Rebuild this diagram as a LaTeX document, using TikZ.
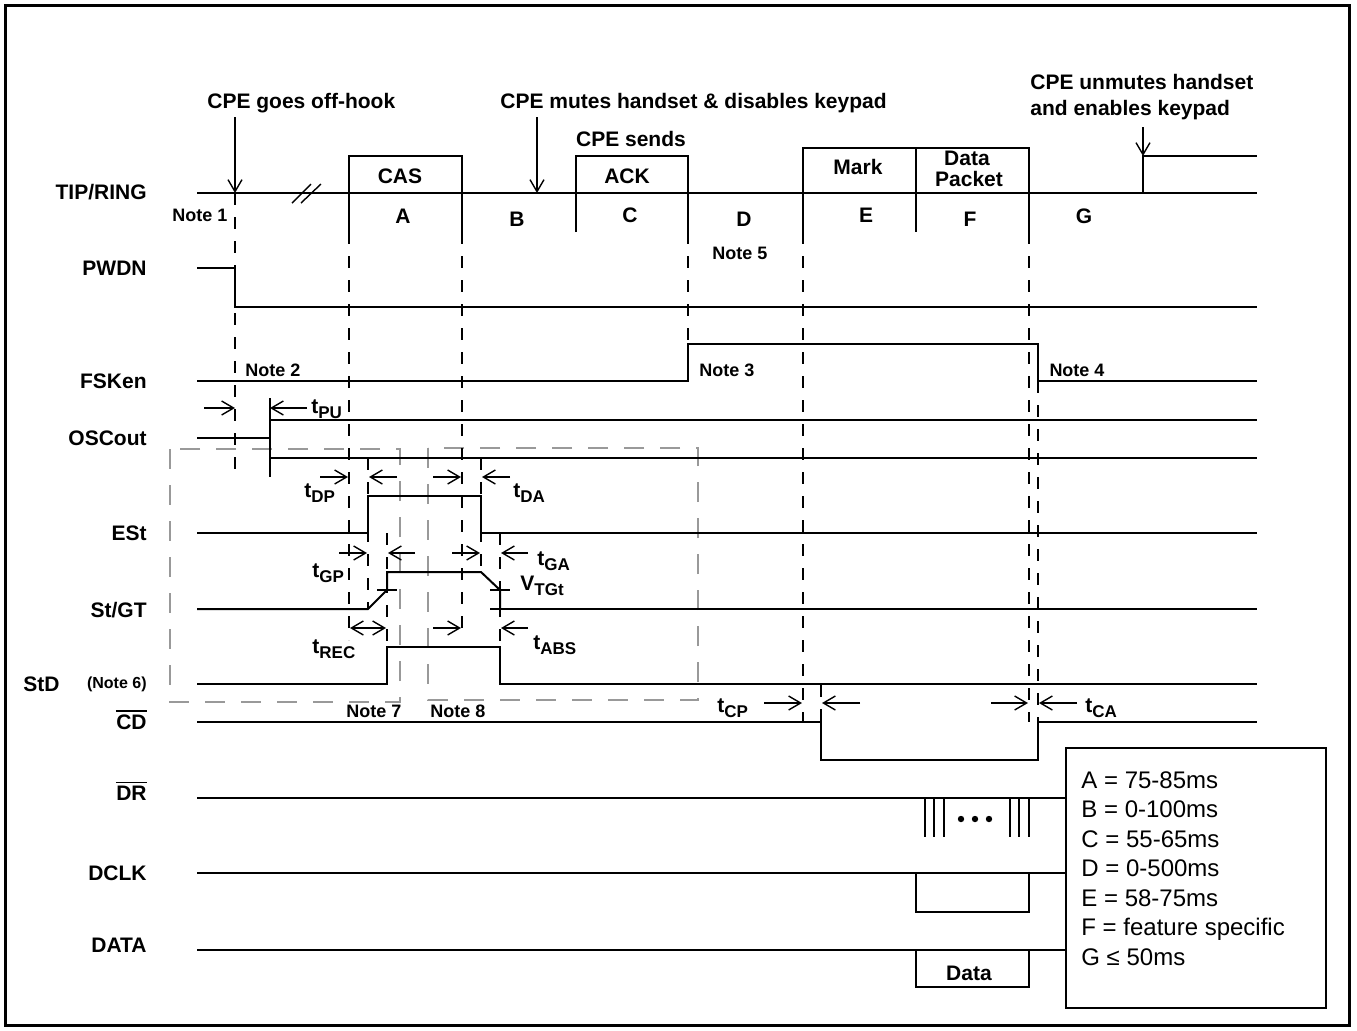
\documentclass[tikz,border=0pt]{standalone}
\usepackage{fontspec}
\setmainfont{Liberation Sans}
\usetikzlibrary{arrows.meta, positioning}

\newcommand{\tsub}[2]{{\fontsize{10.5}{12}\selectfont #1}\raisebox{-2.8pt}{\fontsize{8.5}{10}\selectfont #2}}

\begin{document}
\begin{tikzpicture}[x=0.5pt, y=-0.5pt, >={Straight Barb[length=6pt,width=7pt]},
                    wave/.style={line width=1pt},
                    guide/.style={line width=0.85pt, dash pattern=on 6pt off 6pt},
                    tarrow/.style={->, line width=0.7pt},
                    greybox/.style={draw=black!40, line width=0.85pt, dash pattern=on 10pt off 8pt},
                    lbl/.style={font=\bfseries\fontsize{10.5}{12}\selectfont, inner sep=0pt},
                    note/.style={font=\bfseries\fontsize{9}{11}\selectfont, inner sep=0pt},
                    sig/.style={lbl, anchor=east},
                    tlbl/.style={font=\bfseries, inner sep=0pt, anchor=base west},
                    leg/.style={font=\fontsize{12}{14}\selectfont, anchor=base west, inner sep=0pt}]

    \useasboundingbox (0,0) rectangle (1357,1030);
    \draw[line width=1.5pt] (5,5) rectangle (1349,1025);

    \draw[greybox] (170,449) rectangle (400,702);
    \draw[greybox] (428,448) rectangle (698,700);

    % signal names
    \node[sig] (tipring) at (147,192) {TIP/RING};
    \node[sig] (pwdn) at (147,268) {PWDN};
    \node[sig] (fsken) at (147,381) {FSKen};
    \node[sig] (oscout) at (147,438) {OSCout};
    \node[sig] (est) at (147,533) {ESt};
    \node[sig] (stgt) at (147,610) {St/GT};
    \node[lbl, anchor=west] (std) at (23,684) {StD};
    \node[sig, font=\bfseries\fontsize{8}{10}\selectfont] (note6) at (147,684) {(Note 6)};
    \node[sig] (cd) at (147,722) {CD};
    \node[sig] (dr) at (147,793) {DR};
    \node[sig] (dclk) at (147,873) {DCLK};
    \node[sig] (data) at (147,945) {DATA};
    \draw[line width=0.85pt] ([yshift=1.5pt]cd.north west) -- ([yshift=1.5pt]cd.north east);
    \draw[line width=0.85pt] ([yshift=1.5pt]dr.north west) -- ([yshift=1.5pt]dr.north east);

    % events on the line
    \node[lbl, anchor=base west] (offhook) at (207,108) {CPE goes off-hook};
    \node[lbl, anchor=base west] (mutes) at (500,108) {CPE mutes handset \& disables keypad};
    \node[lbl, anchor=base west] (unmutes) at (1030,89) {CPE unmutes handset};
    \node[lbl, anchor=base west] (enables) at (1030,115) {and enables keypad};
    \node[lbl] (sends) at (631,139) {CPE sends};
    \coordinate (hooktop) at (235,117);
    \coordinate (hook) at (235,193);
    \coordinate (mutetop) at (537,117);
    \coordinate (mute) at (537,193);
    \coordinate (unmutetop) at (1143,127);
    \coordinate (unmute) at (1143,156);
    \draw[tarrow] (hooktop) -- (hook);
    \draw[tarrow] (mutetop) -- (mute);
    \draw[tarrow] (unmutetop) -- (unmute);

    % TIP/RING
    \draw[wave] (197,193) -- (1257,193);
    \draw[wave] (1143,193) -- (1143,156) -- (1257,156);
    \draw[line width=0.7pt] (292,203) -- (311,184) (301,203) -- (321,184);
    \draw[wave] (349,232) |- (462,156) -- (462,232);
    \draw[wave] (576,232) |- (688,156) -- (688,232);
    \draw[wave] (803,232) |- (1029,148) -- (1029,232);
    \draw[wave] (916,148) -- (916,232);
    \node[lbl] (cas) at (400,176) {CAS};
    \node[lbl] (ack) at (627,176) {ACK};
    \node[lbl] (mark) at (858,167) {Mark};
    \node[lbl, anchor=base] (pdata) at (967,165.5) {Data};
    \node[lbl, anchor=base] (packet) at (969,186) {Packet};
    \node[lbl] (ia) at (403,216) {A};
    \node[lbl] (ib) at (517,219) {B};
    \node[lbl] (ic) at (630,215) {C};
    \node[lbl] (id) at (744,219) {D};
    \node[lbl] (ie) at (866,215) {E};
    \node[lbl] (if) at (970,219) {F};
    \node[lbl] (ig) at (1084,216) {G};

    % guides
    \draw[guide] (235,193) -- (235,477);
    \draw[guide] (349,232) -- (349,640);
    \draw[guide] (462,232) -- (462,637);
    \draw[guide] (688,232) -- (688,344);
    \draw[guide] (803,232) -- (803,722);
    \draw[guide] (1029,232) -- (1029,722);
    \draw[guide] (1038,381) -- (1038,722);
    \draw[guide] (368,458) -- (368,609);
    \draw[guide] (481,458) -- (481,572);
    \draw[guide] (387,533) -- (387,647);
    \draw[guide] (500,533) -- (500,647);
    \draw[guide] (821,685) -- (821,722);

    % waveforms
    \draw[wave] (197,268) -- (235,268) -- (235,307) -- (1257,307);
    \draw[wave] (197,381) -- (688,381) -- (688,344) -- (1038,344) -- (1038,381) -- (1257,381);
    \draw[wave] (197,438) -- (270,438);
    \draw[wave] (270,398) -- (270,477);
    \draw[wave] (270,420) -- (1257,420) (270,458) -- (1257,458);
    \draw[wave] (197,533) -- (368,533) -- (368,496) -- (481,496) -- (481,533) -- (1257,533);
    \draw[wave] (197,609) -- (368,609) -- (387,590) -- (387,572) -- (481,572) -- (500,590) -- (500,609);
    \draw[wave] (490,609) -- (1257,609);
    \draw[line width=0.7pt] (377,590) -- (397,590) (490,590) -- (510,590);
    \draw[wave] (197,684) -- (387,684) -- (387,647) -- (500,647) -- (500,684) -- (1257,684);
    \draw[wave] (197,722) -- (821,722) -- (821,760) -- (1038,760) -- (1038,722) -- (1257,722);
    \draw[wave] (197,798) -- (1066,798);
    \draw[wave] (925,798) -- (925,837) (934,798) -- (934,837) (944,798) -- (944,837);
    \draw[wave] (1010,798) -- (1010,837) (1019,798) -- (1019,837) (1029,798) -- (1029,837);
    \fill (961,819) circle (1.6pt) (975,819) circle (1.6pt) (989,819) circle (1.6pt);
    \draw[wave] (197,873) -- (1066,873);
    \draw[wave] (916,873) -- (916,912) -- (1029,912) -- (1029,873);
    \draw[wave] (197,950) -- (1066,950);
    \draw[wave] (916,950) -- (916,987) -- (1029,987) -- (1029,950);
    \node[lbl] (dbox) at (969,973) {Data};

    % notes
    \node[note] (n1) at (200,215) {Note 1};
    \node[note] (n2) at (273,370) {Note 2};
    \node[note] (n3) at (727,370) {Note 3};
    \node[note] (n4) at (1077,370) {Note 4};
    \node[note] (n5) at (740,253) {Note 5};
    \node[note] (n7) at (374,711) {Note 7};
    \node[note] (n8) at (458,711) {Note 8};

    % timing
    \draw[tarrow] (204,408) -- (235,408);
    \draw[tarrow] (307,408) -- (270,408);
    \draw[tarrow] (320,477) -- (348,477);
    \draw[tarrow] (397,477) -- (369,477);
    \draw[tarrow] (433,477) -- (461,477);
    \draw[tarrow] (510,477) -- (482,477);
    \draw[tarrow] (339,553) -- (367,553);
    \draw[tarrow] (415,553) -- (388,553);
    \draw[tarrow] (452,553) -- (480,553);
    \draw[tarrow] (528,553) -- (501,553);
    \draw[<->, line width=0.7pt] (350,628) -- (386,628);
    \draw[tarrow] (433,628) -- (461,628);
    \draw[tarrow] (528,628) -- (501,628);
    \draw[tarrow] (764,703) -- (802,703);
    \draw[tarrow] (860,703) -- (822,703);
    \draw[tarrow] (991,703) -- (1028,703);
    \draw[tarrow] (1077,703) -- (1039,703);
    \node[tlbl] (tpu) at (311,413) {\tsub{t}{PU}};
    \node[tlbl] (tdp) at (304,497) {\tsub{t}{DP}};
    \node[tlbl] (tda) at (513,497) {\tsub{t}{DA}};
    \node[tlbl] (tgp) at (312,577) {\tsub{t}{GP}};
    \node[tlbl] (tga) at (537,565) {\tsub{t}{GA}};
    \node[tlbl] (vtgt) at (520,590) {\tsub{V}{TGt}};
    \node[tlbl] (trec) at (312,653) {\tsub{t}{REC}};
    \node[tlbl] (tabs) at (533,649) {\tsub{t}{ABS}};
    \node[tlbl] (tcp) at (717,712) {\tsub{t}{CP}};
    \node[tlbl] (tca) at (1085,712) {\tsub{t}{CA}};

    % legend
    \draw[wave] (1066,748) rectangle (1326,1008);
    \node[leg] (la) at (1081,788) {A = 75-85ms};
    \node[leg] (lb) at (1081,817) {B = 0-100ms};
    \node[leg] (lc) at (1081,847) {C = 55-65ms};
    \node[leg] (ld) at (1081,876) {D = 0-500ms};
    \node[leg] (le) at (1081,906) {E = 58-75ms};
    \node[leg] (lf) at (1081,935) {F = feature specific};
    \node[leg] (lg) at (1081,965) {G ≤ 50ms};
\end{tikzpicture}
\end{document}
